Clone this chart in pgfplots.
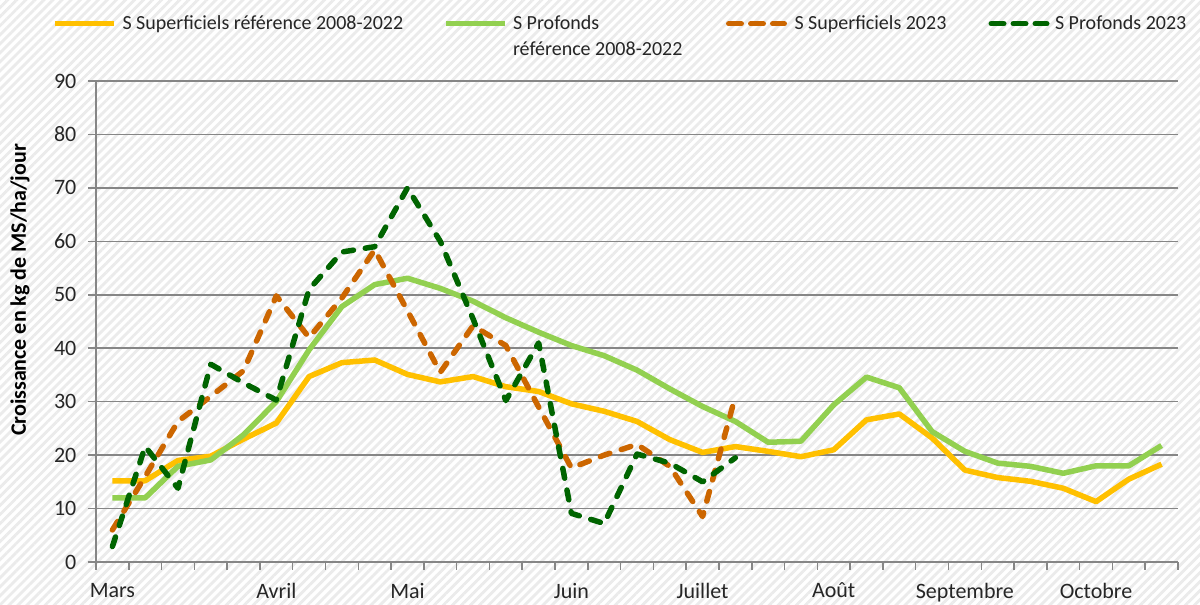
\documentclass[border=0pt]{standalone}
\usepackage{fontspec}
\setmainfont{Carlito}
\usepackage{pgfplots}
\pgfplotsset{compat=1.18}
\usepackage{pgfplotstable}
\usetikzlibrary{patterns.meta}

\definecolor{cYel}{RGB}{255,192,0}
\definecolor{cGrn}{RGB}{146,208,80}
\definecolor{cOra}{RGB}{204,102,0}
\definecolor{cDgr}{RGB}{0,100,0}
\definecolor{cGrid}{RGB}{134,134,134}
\definecolor{cText}{RGB}{38,38,38}

\pgfplotsset{
  solidlegend/.style={legend image code/.code={\draw[##1, line cap=butt] (0pt,3pt) -- (29.5pt,3pt);}},
  dashlegend/.style={legend image code/.code={\path (0pt,3pt) -- (29pt,3pt); \draw[##1] (1.25pt,3pt) -- (27.75pt,3pt);}},
}

\pgfplotstableread{
x ref prof
0 15.2 12.0
1 15.2 12.0
2 19.0 17.9
3 19.8 19.1
4 23.0 23.8
5 26.0 30.0
6 34.7 39.7
7 37.3 47.8
8 37.8 51.9
9 35.1 53.1
10 33.7 51.2
11 34.7 48.8
12 32.8 45.7
13 31.9 43.0
14 29.6 40.5
15 28.2 38.6
16 26.3 35.9
17 22.9 32.4
18 20.5 29.1
19 21.6 26.3
20 20.7 22.4
21 19.7 22.6
22 21.0 29.4
23 26.6 34.6
24 27.7 32.6
25 23.2 24.4
26 17.2 20.7
27 15.8 18.5
28 15.1 17.9
29 13.8 16.6
30 11.3 18.0
31 15.5 18.0
32 18.3 21.8
}\tabref

\pgfplotstableread{
x sup prof
0 6.0 2.9
1 16.0 21.6
2 26.3 13.8
3 31.0 37.0
4 35.8 33.5
5 49.8 30.3
6 42.0 51.0
7 49.4 58.0
8 58.4 59.0
9 47.0 70.0
10 35.5 60.0
11 44.2 45.5
12 40.5 30.2
13 29.0 41.0
14 17.6 9.1
15 20.0 7.2
16 22.0 20.2
17 17.9 18.5
18 8.5 15.0
19 31.0 19.5
}\tabyr

\begin{document}
\begin{tikzpicture}
\fill[white] (0,0) rectangle (600pt,302.5pt);
\fill[pattern={Lines[angle=45,distance=3.2pt,line width=1.4pt]}, pattern color=black!8] (0,0) rectangle (600pt,302.5pt);
\begin{axis}[
  at={(48pt,21.5pt)}, anchor=south west,
  scale only axis, width=541pt, height=240.5pt,
  xmin=-0.5, xmax=32.5, ymin=0, ymax=90,
  xtick={-0.5,0.5,...,32.5}, xticklabels={},
  extra x ticks={0,5,9,14,18,22,26,30},
  extra x tick labels={Mars,Avril,Mai,Juin,Juillet,Août,Septembre,Octobre},
  extra x tick style={major tick length=0pt, xticklabel style={yshift=-7pt}},
  ytick={0,10,...,90},
  ymajorgrids, major grid style={cGrid, line width=0.75pt},
  axis x line*=bottom, axis y line*=left,
  axis line style={cGrid, line width=0.75pt, -},
  tick style={cGrid, line width=0.75pt},
  tick align=outside, major tick length=4pt,
  /pgf/number format/assume math mode=true,
  tick label style={font=\fontsize{11}{13}\selectfont, text=cText},
  yticklabel style={xshift=-2.3pt},
  ylabel={Croissance en kg de MS/ha/jour},
  every axis y label/.style={at={(axis description cs:-0.0702,0.5655)}, rotate=90, anchor=center, font=\fontsize{11}{13}\selectfont\bfseries, text=black},
  legend columns=4,
  legend style={draw=none, fill=none, inner sep=0pt, outer sep=0pt,
    at={(axis description cs:-0.04,1.1445)}, anchor=north west,
    column sep=0pt, row sep=0pt,
    font=\fontsize{10}{13}\selectfont, text=cText,
    cells={anchor=base west},
    nodes={inner sep=0pt, outer sep=0pt}},
  solidlegend,
  line join=round,
]
\addplot[cYel, line width=2.75pt] table[x=x, y=ref] {\tabref};
\addlegendentry{\hspace*{2.65pt}\makebox[160.5pt][l]{S Superficiels référence 2008-2022}}
\addplot[cGrn, line width=2.75pt] table[x=x, y=prof] {\tabref};
\addlegendentry{\hspace*{2.5pt}\makebox[106.5pt][l]{\begin{tabular}[t]{@{}l@{}}S Profonds\\référence 2008-2022\end{tabular}}}
\addplot[cOra, line width=2.75pt, line cap=round, dash pattern=on 5pt off 6pt, dashlegend] table[x=x, y=sup] {\tabyr};
\addlegendentry{\hspace*{2.5pt}\makebox[97pt][l]{S Superficiels 2023}}
\addplot[cDgr, line width=2.75pt, line cap=round, dash pattern=on 5pt off 6pt, dashlegend] table[x=x, y=prof] {\tabyr};
\addlegendentry{\hspace*{1.5pt}S Profonds 2023}
\end{axis}
\pgfresetboundingbox
\useasboundingbox (0,0) rectangle (600pt,302.5pt);
\end{tikzpicture}
\end{document}
